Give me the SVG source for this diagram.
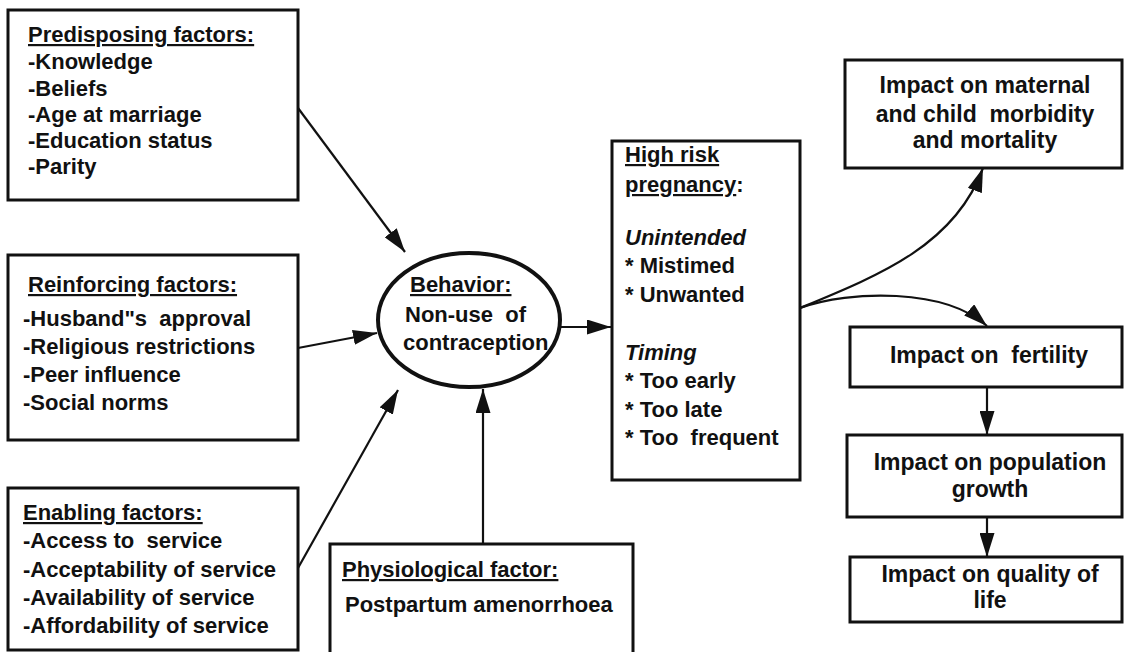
<svg xmlns="http://www.w3.org/2000/svg" width="1127" height="652" viewBox="0 0 1127 652">
<defs>
<style>
.box{fill:#fff;stroke:#111;stroke-width:3}
.t{font-family:"Liberation Sans",Arial,sans-serif;font-weight:bold;font-size:22px;fill:#111;white-space:pre}
.r{font-size:23px}
.u{text-decoration:underline}
.i{font-style:italic}
.c{fill:none;stroke:#111;stroke-width:2.2}
</style>
<marker id="ah" viewBox="0 0 24 15" refX="24" refY="7.5" markerWidth="24" markerHeight="15" markerUnits="userSpaceOnUse" orient="auto">
<path d="M0,0 L24,7.5 L0,15 z" fill="#111"/>
</marker>
</defs>
<rect width="1127" height="652" fill="#fff"/>
<g id="connectors">
<path class="c" d="M298,108 L405,252" marker-end="url(#ah)"/>
<path class="c" d="M298,348 L377,333" marker-end="url(#ah)"/>
<path class="c" d="M298,568 L398,390" marker-end="url(#ah)"/>
<path class="c" d="M483,544 L483,389" marker-end="url(#ah)"/>
<path class="c" d="M560,327 L611,327" marker-end="url(#ah)"/>
<path class="c" d="M800,308 C880,275 955,245 983,168" marker-end="url(#ah)"/>
<path class="c" d="M800,308 C850,290 945,288 987,326" marker-end="url(#ah)"/>
<path class="c" d="M987,387 L987,435" marker-end="url(#ah)"/>
<path class="c" d="M987,517 L987,557" marker-end="url(#ah)"/>
</g>
<g id="predisposing">
<rect class="box" x="8" y="10" width="290" height="190"/>
<text class="t u" x="28" y="42">Predisposing factors:</text>
<text class="t" x="28" y="69">-Knowledge</text>
<text class="t" x="28" y="96">-Beliefs</text>
<text class="t" x="28" y="122">-Age at marriage</text>
<text class="t" x="28" y="148">-Education status</text>
<text class="t" x="28" y="174">-Parity</text>
</g>
<g id="reinforcing">
<rect class="box" x="8" y="255" width="290" height="185"/>
<text class="t u" x="28" y="292">Reinforcing factors:</text>
<text class="t" x="23" y="326">-Husband"s  approval</text>
<text class="t" x="23" y="354">-Religious restrictions</text>
<text class="t" x="23" y="382">-Peer influence</text>
<text class="t" x="23" y="410">-Social norms</text>
</g>
<g id="enabling">
<rect class="box" x="8" y="488" width="290" height="162"/>
<text class="t u" x="23" y="520">Enabling factors:</text>
<text class="t" x="23" y="548">-Access to  service</text>
<text class="t" x="23" y="577">-Acceptability of service</text>
<text class="t" x="23" y="605">-Availability of service</text>
<text class="t" x="23" y="633">-Affordability of service</text>
</g>
<g id="behavior">
<ellipse cx="469" cy="320" rx="91" ry="67" fill="#fff" stroke="#111" stroke-width="4"/>
<text class="t u" x="410" y="292">Behavior:</text>
<text class="t" x="405" y="322">Non-use  of</text>
<text class="t" x="403" y="350">contraception</text>
</g>
<g id="physiological">
<rect class="box" x="330" y="544" width="303" height="112"/>
<text class="t u" x="342" y="577">Physiological factor:</text>
<text class="t" x="345" y="612">Postpartum amenorrhoea</text>
</g>
<g id="highrisk">
<rect class="box" x="612" y="141" width="188" height="339"/>
<text class="t" x="625" y="162"><tspan class="u">High risk</tspan></text>
<text class="t" x="625" y="192"><tspan class="u">pregnancy</tspan>:</text>
<text class="t i" x="625" y="245">Unintended</text>
<text class="t" x="625" y="273">* Mistimed</text>
<text class="t" x="625" y="302">* Unwanted</text>
<text class="t i" x="625" y="360">Timing</text>
<text class="t" x="625" y="388">* Too early</text>
<text class="t" x="625" y="417">* Too late</text>
<text class="t" x="625" y="445">* Too  frequent</text>
</g>
<g id="maternal">
<rect class="box" x="845" y="60" width="277" height="108"/>
<text class="t r" x="985" y="93" text-anchor="middle">Impact on maternal</text>
<text class="t r" x="985" y="122" text-anchor="middle">and child  morbidity</text>
<text class="t r" x="985" y="148" text-anchor="middle">and mortality</text>
</g>
<g id="fertility">
<rect class="box" x="850" y="327" width="272" height="60"/>
<text class="t r" x="989" y="363" text-anchor="middle">Impact on  fertility</text>
</g>
<g id="population">
<rect class="box" x="847" y="435" width="275" height="82"/>
<text class="t r" x="990" y="470" text-anchor="middle">Impact on population</text>
<text class="t r" x="990" y="497" text-anchor="middle">growth</text>
</g>
<g id="quality">
<rect class="box" x="850" y="557" width="272" height="65"/>
<text class="t r" x="990" y="582" text-anchor="middle">Impact on quality of</text>
<text class="t r" x="990" y="608" text-anchor="middle">life</text>
</g>
</svg>
